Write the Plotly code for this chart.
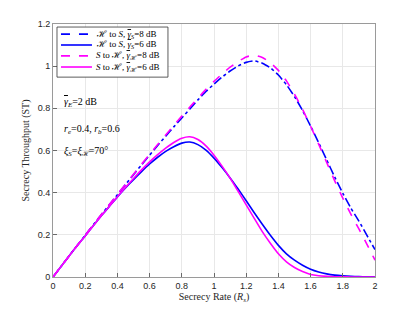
import plotly.graph_objects as go

x = [round(0.05 * i, 2) for i in range(41)]

hs_8db = [0, 0.05, 0.1, 0.149, 0.198, 0.247, 0.295, 0.343, 0.39, 0.438, 0.485, 0.532, 0.578, 0.624, 0.668, 0.712,
          0.754, 0.797, 0.84, 0.88, 0.915, 0.948, 0.977, 1.001, 1.018, 1.025, 1.014, 0.992, 0.958, 0.912, 0.856,
          0.79, 0.716, 0.637, 0.555, 0.474, 0.397, 0.327, 0.265, 0.197, 0.13]
hs_6db = [0, 0.05, 0.1, 0.148, 0.195, 0.243, 0.29, 0.335, 0.38, 0.422, 0.462, 0.5, 0.536, 0.568, 0.596, 0.618,
          0.635, 0.64, 0.628, 0.602, 0.564, 0.519, 0.47, 0.417, 0.362, 0.305, 0.25, 0.198, 0.15, 0.11, 0.08,
          0.056, 0.037, 0.024, 0.015, 0.009, 0.0055, 0.0032, 0.0018, 0.001, 0.0005]
sh_8db = [0, 0.05, 0.1, 0.149, 0.198, 0.247, 0.296, 0.344, 0.392, 0.44, 0.487, 0.535, 0.582, 0.628, 0.674, 0.719,
          0.763, 0.806, 0.848, 0.89, 0.928, 0.963, 0.995, 1.022, 1.044, 1.052, 1.041, 1.017, 0.98, 0.93, 0.867,
          0.795, 0.715, 0.63, 0.543, 0.456, 0.374, 0.298, 0.228, 0.155, 0.08]
sh_6db = [0, 0.05, 0.1, 0.148, 0.195, 0.243, 0.29, 0.336, 0.381, 0.425, 0.467, 0.508, 0.546, 0.58, 0.611, 0.638,
          0.658, 0.665, 0.652, 0.622, 0.578, 0.526, 0.469, 0.406, 0.342, 0.278, 0.215, 0.16, 0.11, 0.072, 0.045,
          0.026, 0.012, 0.006, 0.003, 0.0015, 0.0006, 0.0002, 0.0001, 0.0, 0.0]

x_ticks = [0, 0.2, 0.4, 0.6, 0.8, 1.0, 1.2, 1.4, 1.6, 1.8, 2.0]
x_ticktext = ["0", "0.2", "0.4", "0.6", "0.8", "1", "1.2", "1.4", "1.6", "1.8", "2"]
y_ticks = [0, 0.2, 0.4, 0.6, 0.8, 1.0, 1.2]
y_ticktext = ["0", "0.2", "0.4", "0.6", "0.8", "1", "1.2"]

G = "<span style='text-decoration:overline'><i>γ</i></span>"
names = [
    "ℋ to <i>S</i>, " + G + "<sub><i>S</i></sub>=8 dB",
    "ℋ to <i>S</i>, " + G + "<sub><i>S</i></sub>=6 dB",
    "<i>S</i> to ℋ, " + G + "<sub>ℋ</sub>=8 dB",
    "<i>S</i> to ℋ, " + G + "<sub>ℋ</sub>=6 dB",
]
series = [hs_8db, hs_6db, sh_8db, sh_6db]
colors = ["#0000FF", "#0000FF", "#FF00FF", "#FF00FF"]
dashes = ["dashdot", "solid", "dash", "solid"]
legend_dashes = ["dash", "solid", "dash", "solid"]

SERIF = "Liberation Serif, DejaVu Serif, serif"
SANS = "Liberation Sans, Arial, sans-serif"

fig = go.Figure()
for n, s, c, d in zip(names, series, colors, dashes):
    fig.add_trace(go.Scatter(x=x, y=s, name=n, mode="lines", showlegend=False,
                             line=dict(color=c, width=1.6, dash=d, shape="spline", smoothing=0.5)))

axis_common = dict(showline=True, linecolor="#9a9a9a", linewidth=1, mirror=True,
                   ticks="inside", ticklen=4, tickcolor="#6a6a6a",
                   showgrid=True, gridcolor="#e8e8e8", gridwidth=1, zeroline=False,
                   automargin=False,
                   tickfont=dict(family=SANS, size=9, color="#262626"))

# page body has an 8px default margin; figure sized so page fits the 415x312 window
fig.update_layout(
    width=399, height=296,
    margin=dict(l=45, r=32, t=16, b=27),
    paper_bgcolor="white", plot_bgcolor="white",
    showlegend=False,
    xaxis=dict(range=[0, 2], tickvals=x_ticks, ticktext=x_ticktext,
               title=dict(text="Secrecy Rate (<i>R<sub>s</sub></i>)", standoff=4,
                          font=dict(family=SERIF, size=10, color="#262626")),
               **axis_common),
    yaxis=dict(range=[0, 1.2], tickvals=y_ticks, ticktext=y_ticktext,
               title=dict(text="Secrecy Throughput (ST)", standoff=6,
                          font=dict(family=SERIF, size=10, color="#262626")),
               **axis_common),
)

fig.add_shape(type="rect", xref="paper", yref="paper", x0=0.0124, x1=0.357, y0=0.79, y1=0.988,
              line=dict(color="#333333", width=0.8), fillcolor="white", layer="above")
leg_y = [0.960, 0.917, 0.874, 0.830]
for n, c, d, yy in zip(names, colors, legend_dashes, leg_y):
    fig.add_shape(type="line", xref="paper", yref="paper", x0=0.0248, x1=0.121, y0=yy, y1=yy,
                  line=dict(color=c, width=1.6, dash=d), layer="above")
    fig.add_annotation(x=0.127, y=yy, xref="paper", yref="paper", text=n, showarrow=False,
                       xanchor="left", yanchor="middle",
                       font=dict(family=SERIF, size=9, color="black"))

notes = [
    (0.83, G + "<sub><i>E</i></sub>=2 dB"),
    (0.70, "<i>r<sub>e</sub></i>=0.4, <i>r<sub>b</sub></i>=0.6"),
    (0.593, "<i>ξ<sub>S</sub></i>=<i>ξ</i><sub>ℋ</sub>=70°"),
]
for yy, t in notes:
    fig.add_annotation(x=0.055, y=yy, xref="x", yref="y", text=t, showarrow=False,
                       xanchor="left", yanchor="middle",
                       font=dict(family=SERIF, size=10, color="black"))

fig.write_html("out.html")
